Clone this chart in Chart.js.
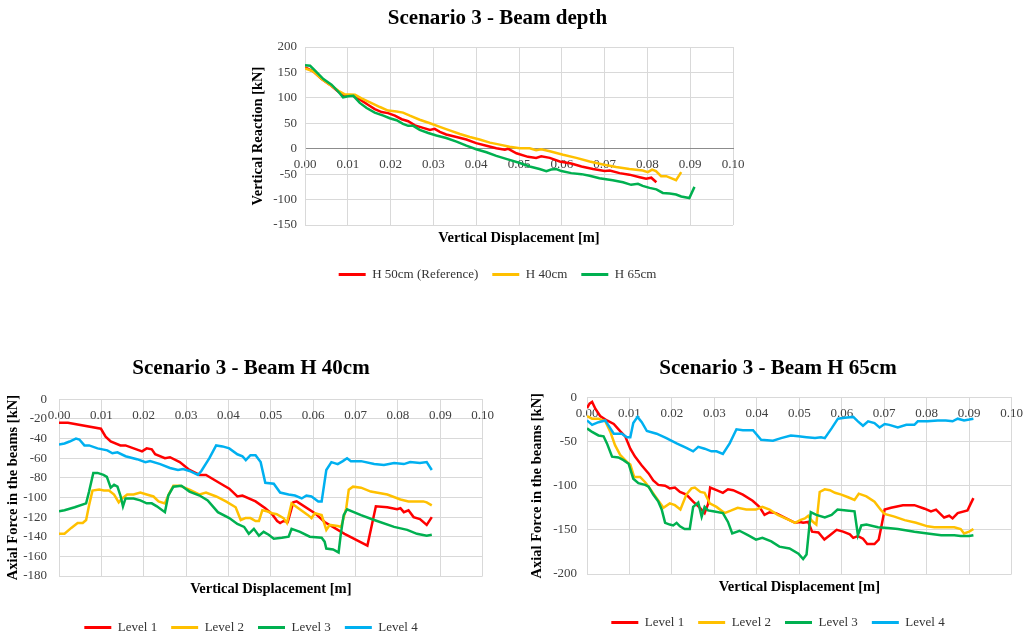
<!DOCTYPE html>
<html>
<head>
<meta charset="utf-8">
<title>Scenario 3</title>
<script src="https://cdn.jsdelivr.net/npm/chart.js@4.4.1/dist/chart.umd.min.js"></script>
<style>
  html, body { margin: 0; padding: 0; background: #fff; overflow: hidden; }
  canvas { position: absolute; }
</style>
</head>
<body>
<canvas id="graphDepth" width="521" height="291" style="left:237px;top:0px"></canvas>
<canvas id="graphH40" width="502" height="294" style="left:0px;top:350px"></canvas>
<canvas id="graphH65" width="506" height="289" style="left:525px;top:350px"></canvas>
<script>
/* Eixos */
var dispTicks  = [0, 0.01, 0.02, 0.03, 0.04, 0.05, 0.06, 0.07, 0.08, 0.09, 0.10];
var depthTicks = [200, 150, 100, 50, 0, -50, -100, -150];
var h40Ticks   = [0, -20, -40, -60, -80, -100, -120, -140, -160, -180];
var h65Ticks   = [0, -50, -100, -150, -200];

/* Scenario 3 - Beam depth */
var h50X = [0, 0.0019, 0.0039, 0.0058, 0.0078, 0.0093, 0.0113, 0.0128, 0.0148, 0.0163, 0.0179, 0.0194, 0.021, 0.0226, 0.0241, 0.0257, 0.0276, 0.0292, 0.0303, 0.0315, 0.033, 0.0354, 0.0377, 0.04, 0.0424, 0.0447, 0.0467, 0.0474, 0.0494, 0.0521, 0.054, 0.0552, 0.0572, 0.0595, 0.0622, 0.0646, 0.0673, 0.07, 0.0712, 0.0735, 0.0758, 0.0782, 0.0797, 0.0809, 0.0821];
var h50Y = [160, 152, 137, 126, 112, 104, 104, 97, 86, 78, 72, 70, 65, 58, 54, 46, 41, 37, 39, 33, 28, 23, 18, 11, 6, 1, -2, 0, -9, -16, -18, -15, -18, -25, -29, -35, -40, -44, -43, -48, -51, -56, -59, -57, -66];
var h40X = [0, 0.0019, 0.0039, 0.0058, 0.0078, 0.0093, 0.0117, 0.0132, 0.0152, 0.0175, 0.0194, 0.0214, 0.0229, 0.0245, 0.0268, 0.0292, 0.0315, 0.0338, 0.0362, 0.0385, 0.0408, 0.0432, 0.0455, 0.0478, 0.0502, 0.0525, 0.054, 0.0552, 0.0572, 0.0603, 0.0634, 0.0665, 0.0696, 0.0727, 0.0758, 0.0789, 0.0801, 0.0811, 0.082, 0.0832, 0.0844, 0.0867, 0.0879];
var h40Y = [158, 152, 137, 126, 114, 107, 106, 99, 91, 82, 75, 73, 71, 65, 57, 50, 43, 36, 29, 23, 18, 12, 8, 4, 1, 1, -3, -1, -5, -12, -18, -25, -31, -36, -40, -43, -46, -41, -44, -54, -54, -62, -46];
var h65X = [0, 0.0012, 0.0023, 0.0043, 0.0062, 0.0078, 0.0089, 0.0101, 0.0113, 0.0128, 0.0144, 0.0163, 0.0183, 0.0198, 0.0214, 0.0229, 0.0241, 0.0253, 0.0268, 0.0288, 0.0307, 0.033, 0.0354, 0.0377, 0.04, 0.0424, 0.0447, 0.047, 0.0502, 0.0525, 0.0548, 0.0564, 0.0575, 0.0587, 0.0599, 0.0622, 0.0646, 0.0665, 0.0688, 0.0719, 0.0743, 0.0762, 0.0778, 0.0789, 0.0805, 0.0821, 0.0836, 0.0852, 0.0867, 0.0879, 0.0898, 0.091];
var h65Y = [164, 163, 154, 137, 126, 112, 101, 103, 104, 90, 80, 71, 65, 60, 56, 49, 45, 45, 37, 31, 26, 21, 14, 6, -1, -7, -14, -20, -28, -35, -40, -44, -41, -40, -44, -48, -50, -53, -58, -62, -66, -71, -69, -73, -77, -80, -87, -88, -90, -94, -97, -75];

/* Scenario 3 - Beam H 40cm */
var b40L1X = [0, 0.0021, 0.0099, 0.011, 0.0122, 0.0145, 0.0157, 0.0196, 0.0207, 0.0219, 0.0227, 0.025, 0.0262, 0.0285, 0.0308, 0.0332, 0.0347, 0.0378, 0.0402, 0.0421, 0.0433, 0.0464, 0.0487, 0.0503, 0.0515, 0.0522, 0.053, 0.054, 0.0553, 0.0561, 0.0604, 0.0627, 0.0674, 0.0728, 0.0748, 0.0775, 0.0798, 0.0806, 0.0814, 0.0825, 0.0837, 0.0852, 0.0868, 0.088];
var b40L1Y = [-24, -24, -30, -38, -43, -47, -47, -53, -50, -51, -56, -60, -59, -64, -72, -77, -77, -85, -91, -99, -98, -104, -111, -117, -124, -126, -124, -125, -105, -104, -116, -125, -137, -149, -109, -110, -112, -111, -115, -113, -120, -122, -128, -120];
var b40L2X = [0, 0.0013, 0.0029, 0.0044, 0.0056, 0.0064, 0.0071, 0.0079, 0.0095, 0.0106, 0.0118, 0.013, 0.0141, 0.0149, 0.0161, 0.0176, 0.0192, 0.0207, 0.0223, 0.0235, 0.025, 0.026, 0.027, 0.0285, 0.0308, 0.0332, 0.0347, 0.0371, 0.0394, 0.0417, 0.0429, 0.044, 0.0452, 0.0464, 0.0472, 0.048, 0.0491, 0.0503, 0.0514, 0.053, 0.0538, 0.0549, 0.0565, 0.0588, 0.0596, 0.0604, 0.062, 0.0631, 0.0639, 0.0658, 0.0666, 0.0678, 0.0684, 0.0694, 0.0713, 0.0736, 0.0775, 0.0806, 0.0825, 0.0841, 0.086, 0.0868, 0.088];
var b40L2Y = [-137, -137, -131, -126, -126, -123, -108, -93, -92, -93, -93, -97, -105, -101, -97, -97, -95, -97, -99, -104, -106, -96, -88, -88, -92, -97, -95, -99, -104, -110, -123, -121, -121, -124, -124, -113, -114, -116, -117, -121, -126, -106, -111, -118, -121, -116, -118, -133, -128, -129, -130, -111, -92, -89, -90, -94, -97, -102, -104, -104, -104, -105, -108];
var b40L3X = [0, 0.0013, 0.0037, 0.0064, 0.0071, 0.0081, 0.0091, 0.0105, 0.0113, 0.0122, 0.013, 0.0138, 0.0145, 0.0151, 0.0157, 0.0176, 0.0192, 0.0207, 0.0219, 0.0231, 0.025, 0.0258, 0.027, 0.0289, 0.0308, 0.0332, 0.0351, 0.0375, 0.0402, 0.0421, 0.0437, 0.0448, 0.046, 0.0472, 0.0483, 0.0495, 0.0507, 0.0526, 0.0542, 0.0549, 0.0569, 0.0592, 0.062, 0.0627, 0.0631, 0.0647, 0.066, 0.0665, 0.0672, 0.068, 0.0713, 0.0744, 0.0791, 0.0822, 0.0845, 0.0868, 0.088];
var b40L3Y = [-114, -113, -110, -106, -94, -75, -75, -77, -79, -90, -87, -89, -98, -109, -101, -101, -103, -106, -106, -109, -115, -98, -89, -88, -94, -98, -103, -115, -121, -127, -130, -137, -132, -139, -135, -138, -142, -141, -140, -132, -135, -140, -141, -145, -152, -153, -156, -138, -118, -112, -118, -123, -130, -133, -137, -139, -138];
var b40L4X = [0, 0.0013, 0.0025, 0.004, 0.0048, 0.006, 0.0071, 0.0091, 0.0114, 0.0126, 0.0138, 0.0157, 0.0184, 0.0204, 0.0215, 0.0239, 0.0262, 0.0281, 0.0293, 0.0308, 0.0328, 0.0336, 0.0355, 0.0371, 0.0386, 0.0402, 0.0421, 0.0433, 0.0441, 0.0452, 0.0464, 0.0476, 0.0487, 0.0507, 0.0522, 0.0542, 0.0557, 0.0573, 0.0584, 0.0596, 0.0612, 0.062, 0.0631, 0.0643, 0.0658, 0.067, 0.068, 0.0689, 0.0713, 0.0744, 0.0767, 0.0791, 0.0814, 0.0829, 0.0852, 0.0868, 0.088];
var b40L4Y = [-46, -45, -43, -40, -41, -47, -47, -50, -52, -55, -54, -58, -61, -64, -63, -66, -70, -72, -71, -73, -77, -73, -60, -47, -48, -50, -56, -58, -62, -57, -57, -64, -85, -86, -95, -97, -98, -101, -98, -99, -104, -104, -72, -64, -66, -63, -60, -63, -63, -66, -67, -65, -66, -64, -65, -64, -72];

/* Scenario 3 - Beam H 65cm */
var b65L1X = [0, 0.0006, 0.0012, 0.002, 0.0031, 0.0047, 0.0063, 0.0078, 0.009, 0.0102, 0.0113, 0.0129, 0.0145, 0.0156, 0.0168, 0.0184, 0.0195, 0.0207, 0.0219, 0.0234, 0.025, 0.0266, 0.0277, 0.0285, 0.029, 0.0305, 0.032, 0.0332, 0.0344, 0.0367, 0.039, 0.0406, 0.0418, 0.043, 0.0445, 0.0469, 0.049, 0.0502, 0.0509, 0.0521, 0.053, 0.0545, 0.0559, 0.0572, 0.0588, 0.0603, 0.0619, 0.0627, 0.0638, 0.065, 0.066, 0.0677, 0.0687, 0.0695, 0.0701, 0.0716, 0.0744, 0.0771, 0.0795, 0.081, 0.0822, 0.0841, 0.0853, 0.0861, 0.0873, 0.0896, 0.0902, 0.091];
var b65L1Y = [-12, -7, -5, -13, -21, -26, -30, -38, -44, -58, -67, -77, -86, -94, -99, -100, -103, -102, -107, -110, -118, -125, -131, -121, -102, -105, -108, -104, -105, -110, -117, -124, -133, -130, -131, -137, -142, -141, -142, -141, -152, -153, -161, -156, -150, -152, -155, -159, -157, -160, -166, -166, -161, -142, -127, -125, -122, -122, -126, -129, -127, -136, -134, -137, -131, -128, -122, -114];
var b65L2X = [0, 0.0012, 0.0027, 0.0043, 0.0055, 0.0066, 0.0078, 0.0094, 0.0102, 0.0111, 0.0125, 0.0137, 0.0148, 0.0164, 0.018, 0.0195, 0.0207, 0.022, 0.0234, 0.0246, 0.0254, 0.0267, 0.0277, 0.0289, 0.0305, 0.0324, 0.034, 0.0355, 0.0375, 0.0398, 0.0413, 0.043, 0.0449, 0.0473, 0.049, 0.0502, 0.0513, 0.0521, 0.053, 0.054, 0.0548, 0.056, 0.0572, 0.0584, 0.0599, 0.0615, 0.063, 0.064, 0.0658, 0.0677, 0.0693, 0.0701, 0.0724, 0.0748, 0.0775, 0.0802, 0.0818, 0.0841, 0.0865, 0.088, 0.0888, 0.09, 0.091];
var b65L2Y = [-21, -24, -24, -27, -39, -54, -65, -73, -76, -90, -90, -96, -103, -114, -125, -120, -122, -127, -110, -103, -102, -107, -108, -120, -124, -131, -128, -125, -127, -127, -124, -127, -133, -138, -142, -139, -137, -134, -140, -144, -107, -104, -105, -108, -110, -113, -116, -109, -112, -118, -128, -132, -135, -139, -142, -146, -147, -147, -147, -149, -154, -152, -149];
var b65L3X = [0, 0.0012, 0.0027, 0.0039, 0.0047, 0.0059, 0.0074, 0.0086, 0.0098, 0.0109, 0.0121, 0.0137, 0.0145, 0.0156, 0.0168, 0.0176, 0.0184, 0.0195, 0.0203, 0.0211, 0.0219, 0.023, 0.0242, 0.025, 0.0262, 0.027, 0.0277, 0.0285, 0.0297, 0.032, 0.0332, 0.0342, 0.0359, 0.0379, 0.0398, 0.0413, 0.0434, 0.0453, 0.0477, 0.0498, 0.0509, 0.0517, 0.0527, 0.054, 0.056, 0.0576, 0.059, 0.0611, 0.063, 0.0638, 0.0646, 0.0658, 0.0685, 0.0709, 0.0732, 0.0771, 0.0802, 0.0834, 0.0865, 0.088, 0.09, 0.091];
var b65L3Y = [-35, -39, -43, -44, -52, -67, -68, -71, -75, -92, -97, -99, -101, -110, -118, -127, -142, -144, -145, -142, -146, -149, -149, -124, -119, -135, -124, -128, -129, -131, -141, -154, -151, -156, -161, -159, -163, -169, -171, -177, -183, -178, -130, -133, -136, -133, -127, -128, -129, -156, -145, -144, -147, -148, -149, -152, -154, -156, -156, -157, -157, -156];
var b65L4X = [0, 0.0012, 0.0027, 0.0043, 0.0063, 0.0082, 0.0094, 0.0102, 0.0109, 0.0119, 0.0129, 0.0141, 0.0164, 0.0187, 0.0211, 0.0234, 0.025, 0.0262, 0.0277, 0.0293, 0.0305, 0.032, 0.0336, 0.0352, 0.0367, 0.0391, 0.041, 0.0438, 0.0457, 0.048, 0.0498, 0.0517, 0.0537, 0.0551, 0.056, 0.0576, 0.0591, 0.0607, 0.0627, 0.0638, 0.065, 0.0662, 0.0677, 0.0689, 0.0701, 0.0712, 0.0732, 0.0752, 0.0771, 0.0779, 0.0802, 0.0826, 0.0845, 0.0861, 0.0873, 0.0888, 0.09, 0.091];
var b65L4Y = [-26, -31, -28, -26, -41, -41, -45, -45, -29, -22, -28, -38, -41, -46, -52, -57, -61, -56, -58, -61, -61, -64, -52, -36, -37, -37, -48, -49, -46, -43, -44, -45, -46, -45, -46, -35, -24, -23, -22, -27, -32, -27, -29, -34, -30, -31, -34, -31, -31, -27, -27, -26, -26, -27, -24, -26, -25, -24];

/* Estilo */
var FONTE = 'Liberation Serif';
var GRADE = '#d9d9d9';
var RED = '#FF0000', YELLOW = '#FFC000', GREEN = '#00B050', BLUE = '#00B0F0';

function serie(label, xs, ys, cor, i) {
  return {
    label: label,
    data: xs.map(function (x, k) { return { x: x, y: ys[k] }; }),
    borderColor: cor,
    backgroundColor: cor,
    borderWidth: 2.5,
    pointRadius: 0,
    pointHoverRadius: 0,
    pointBorderWidth: 3,
    pointStyle: 'line',
    showLine: true,
    tension: 0,
    order: -i   /* later series on top, like Excel */
  };
}

function montaGrafico(id, cfg) {
  var ctx = document.getElementById(id).getContext('2d');
  return new Chart(ctx, {
    type: 'scatter',
    data: { datasets: cfg.series },
    options: {
      responsive: false,
      animation: false,
      events: [],
      layout: { padding: 0 },
      plugins: {
        title: {
          display: true, text: cfg.title, color: '#000',
          font: { family: FONTE, size: 21, weight: 'bold' },
          padding: { top: cfg.titleTop, bottom: cfg.titleBottom }
        },
        legend: {
          position: 'bottom',
          labels: {
            usePointStyle: true, pointStyleWidth: 27, padding: 14, color: '#333',
            font: { family: FONTE, size: 13 },
            sort: function (a, b) { return a.datasetIndex - b.datasetIndex; }
          }
        },
        tooltip: { enabled: false }
      },
      scales: {
        x: {
          type: 'linear', position: { y: 0 }, min: 0, max: 0.1,
          afterBuildTicks: function (a) { a.ticks = dispTicks.map(function (v) { return { value: v }; }); },
          grid: { color: GRADE, drawTicks: false },
          border: { color: cfg.zeroColor, width: 1 },
          ticks: {
            padding: 8, color: '#404040', maxRotation: 0, autoSkip: false,
            font: { family: FONTE, size: 13 },
            callback: function (v) { return v.toFixed(2); }
          }
        },
        /* only carries the axis title below the plot */
        x2: {
          type: 'linear', position: 'bottom', min: 0, max: 0.1,
          grid: { display: false, drawTicks: false },
          border: { display: false },
          ticks: { display: false },
          title: {
            display: true, text: 'Vertical Displacement [m]', color: '#000',
            font: { family: FONTE, size: 14.5, weight: 'bold' },
            padding: { top: 0, bottom: cfg.xTitleBottom }
          },
          afterFit: function (s) { s.height = cfg.xBoxH; }
        },
        y: {
          type: 'linear', position: 'left',
          min: cfg.yTicks[cfg.yTicks.length - 1], max: cfg.yTicks[0],
          afterBuildTicks: function (a) { a.ticks = cfg.yTicks.map(function (v) { return { value: v }; }); },
          grid: { color: GRADE, drawTicks: false },
          border: { color: GRADE },
          ticks: { padding: cfg.yTickPad, color: '#404040', font: { family: FONTE, size: 13 } },
          title: {
            display: true, text: cfg.yTitle, color: '#000',
            font: { family: FONTE, size: 14.5, weight: 'bold' },
            padding: { top: cfg.yTitleTop, bottom: 0 }
          },
          afterFit: function (s) { s.width = cfg.yBoxW; }
        },
        /* empty right margin, keeps title and legend centred on the canvas */
        y2: {
          type: 'linear', position: 'right', min: 0, max: 1,
          grid: { display: false, drawTicks: false },
          border: { display: false },
          ticks: { display: false },
          afterFit: function (s) { s.width = cfg.rightW; }
        }
      }
    }
  });
}

montaGrafico('graphDepth', {
  title: 'Scenario 3 - Beam depth',
  yTitle: 'Vertical Reaction [kN]',
  yTicks: depthTicks,
  zeroColor: '#8c8c8c',
  titleTop: 5.5, titleBottom: 16.3,
  xBoxH: 29, xTitleBottom: 7.3,
  yBoxW: 68, yTitleTop: 12.6, yTickPad: 8,
  rightW: 25,
  series: [
    serie('H 50cm (Reference)', h50X, h50Y, RED, 0),
    serie('H 40cm', h40X, h40Y, YELLOW, 1),
    serie('H 65cm', h65X, h65Y, GREEN, 2)
  ]
});

montaGrafico('graphH40', {
  title: 'Scenario 3 - Beam H 40cm',
  yTitle: 'Axial Force in the beams [kN]',
  yTicks: h40Ticks,
  zeroColor: GRADE,
  titleTop: 6.4, titleBottom: 17.7,
  xBoxH: 31, xTitleBottom: 8.8,
  yBoxW: 59, yTitleTop: 4.6, yTickPad: 12,
  rightW: 14,
  series: [
    serie('Level 1', b40L1X, b40L1Y, RED, 0),
    serie('Level 2', b40L2X, b40L2Y, YELLOW, 1),
    serie('Level 3', b40L3X, b40L3Y, GREEN, 2),
    serie('Level 4', b40L4X, b40L4Y, BLUE, 3)
  ]
});

montaGrafico('graphH65', {
  title: 'Scenario 3 - Beam H 65cm',
  yTitle: 'Axial Force in the beams [kN]',
  yTicks: h65Ticks,
  zeroColor: GRADE,
  titleTop: 6.4, titleBottom: 15.9,
  xBoxH: 28, xTitleBottom: 6.2,
  yBoxW: 62, yTitleTop: 3.3, yTickPad: 10,
  rightW: 17,
  series: [
    serie('Level 1', b65L1X, b65L1Y, RED, 0),
    serie('Level 2', b65L2X, b65L2Y, YELLOW, 1),
    serie('Level 3', b65L3X, b65L3Y, GREEN, 2),
    serie('Level 4', b65L4X, b65L4Y, BLUE, 3)
  ]
});
</script>
</body>
</html>
